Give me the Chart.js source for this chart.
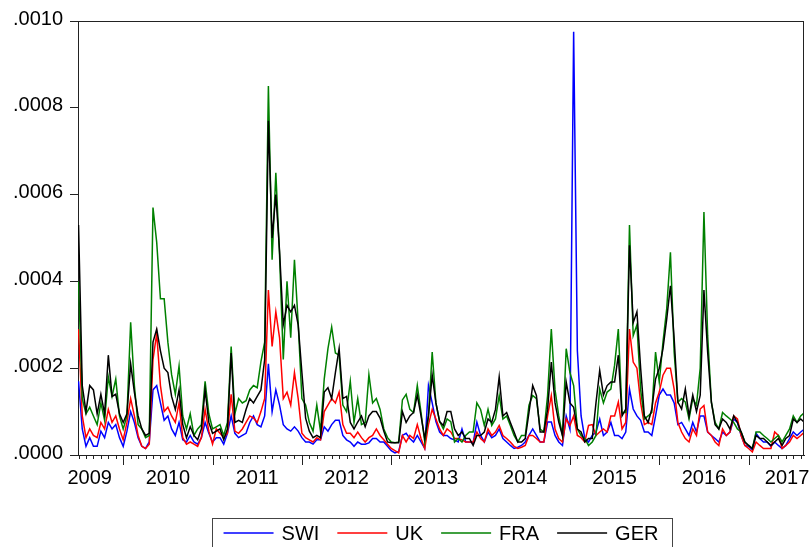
<!DOCTYPE html>
<html>
<head>
<meta charset="utf-8">
<script src="https://cdn.jsdelivr.net/npm/chart.js@4.4.1/dist/chart.umd.min.js"></script>
<style>
html,body{margin:0;padding:0;background:#fff;overflow:hidden}
#wrap{width:809px;height:547px;position:relative}
</style>
</head>
<body>
<div id="wrap"><canvas id="c" width="809" height="547"></canvas></div>
<script>
// ---- data (values in units of 1e-4), semi-monthly readings from July 2009 ----
const seriesNames = ['SWI', 'UK', 'FRA', 'GER'];
const seriesColors = ['#0000ff', '#ff0000', '#008000', '#000000'];
const yearLabels = ['2009', '2010', '2011', '2012', '2013', '2014', '2015', '2016', '2017'];
const startYear = 2009.5;
const pointsPerYear = 24;

const swi = [1.7,0.6,0.2,0.4,0.2,0.2,0.55,0.4,0.75,0.6,0.7,0.4,0.2,0.55,1.0,0.75,0.4,0.2,0.15,0.3,
1.5,1.6,1.2,0.8,0.9,0.6,0.45,0.75,0.35,0.3,0.45,0.3,0.25,0.4,0.75,0.5,0.3,0.4,0.4,0.25,
0.5,0.9,0.5,0.4,0.45,0.5,0.75,0.9,0.7,0.65,0.9,2.1,1.0,1.5,1.15,0.7,0.6,0.55,0.65,0.55,
0.4,0.3,0.3,0.25,0.35,0.35,0.65,0.55,0.7,0.8,0.8,0.45,0.35,0.3,0.2,0.3,0.25,0.25,0.28,0.38,
0.38,0.3,0.3,0.2,0.1,0.05,0.08,0.45,0.5,0.38,0.3,0.45,0.3,0.15,1.6,1.2,0.77,0.53,0.45,0.45,
0.38,0.35,0.3,0.6,0.3,0.3,0.28,0.76,0.45,0.3,0.53,0.4,0.45,0.6,0.38,0.3,0.22,0.15,0.18,0.22,
0.3,0.45,0.6,0.45,0.3,0.3,0.76,0.76,0.45,0.3,0.22,0.9,0.6,9.75,2.4,0.9,0.38,0.3,0.45,0.53,
0.83,0.45,0.53,0.75,0.45,0.45,0.38,0.53,1.52,1.06,0.9,0.8,0.53,0.53,0.45,0.9,1.38,1.52,1.38,1.38,
1.2,0.7,0.75,0.6,0.45,0.75,0.53,0.9,0.9,0.53,0.45,0.38,0.3,0.53,0.45,0.53,0.83,0.75,0.45,0.22,
0.2,0.12,0.5,0.38,0.3,0.3,0.2,0.3,0.22,0.15,0.22,0.38,0.53,0.45,0.53,0.6];

const uk = [2.9,0.9,0.4,0.6,0.45,0.4,0.75,0.6,1.05,0.75,0.9,0.6,0.35,0.75,1.3,0.9,0.45,0.2,0.15,0.25,
2.2,2.8,1.6,1.0,1.1,0.9,0.75,1.2,0.4,0.25,0.3,0.25,0.2,0.4,1.05,0.55,0.25,0.6,0.5,0.4,
0.5,1.4,0.55,0.5,0.6,0.75,0.9,0.85,0.75,1.0,1.3,3.8,2.5,3.3,2.7,1.3,1.45,1.15,1.9,1.3,
0.5,0.4,0.35,0.3,0.4,0.35,1.0,1.15,1.3,1.2,1.45,0.7,0.5,0.5,0.4,0.53,0.4,0.3,0.4,0.45,
0.6,0.45,0.35,0.25,0.15,0.1,0.05,0.45,0.3,0.45,0.38,0.7,0.38,0.15,0.7,1.05,0.83,0.6,0.45,0.6,
0.53,0.38,0.38,0.35,0.3,0.3,0.3,0.53,0.38,0.3,0.6,0.45,0.53,0.68,0.45,0.38,0.3,0.2,0.15,0.18,
0.22,0.45,0.45,0.38,0.3,0.3,0.9,1.37,0.6,0.38,0.3,0.83,0.68,0.9,0.45,0.4,0.3,0.68,0.7,0.45,
0.53,0.6,0.53,0.9,0.9,1.22,0.6,0.75,2.9,2.14,2.0,1.2,0.7,0.75,0.7,1.2,1.45,1.84,2.0,2.0,
1.52,0.75,0.53,0.38,0.3,0.6,0.45,1.06,1.14,0.53,0.45,0.3,0.22,0.6,0.45,0.53,0.9,0.83,0.45,0.22,
0.15,0.07,0.3,0.22,0.15,0.15,0.15,0.53,0.45,0.15,0.22,0.3,0.45,0.38,0.45,0.53];

const fra = [4.0,1.3,0.95,1.1,0.9,0.7,1.2,0.8,1.8,1.35,1.75,0.9,0.6,0.9,3.06,1.6,0.7,0.6,0.4,0.45,
5.7,4.9,3.6,3.6,2.6,1.85,1.4,2.05,0.9,0.6,0.95,0.45,0.6,0.7,1.7,0.95,0.6,0.65,0.7,0.45,
0.75,2.5,0.95,1.3,1.2,1.25,1.5,1.6,1.55,2.15,2.6,8.5,4.5,6.5,4.6,2.2,4.0,2.7,4.5,3.05,
1.3,1.15,0.75,0.55,1.15,0.55,1.75,2.45,2.95,2.35,2.3,1.15,1.0,1.7,0.75,1.3,0.7,0.75,1.85,1.2,
1.3,1.05,0.6,0.4,0.3,0.28,0.3,1.27,1.4,1.05,0.98,1.6,0.98,0.3,0.9,2.37,1.2,0.77,0.6,0.83,
0.77,0.3,0.38,0.3,0.45,0.53,0.53,1.2,1.05,0.68,1.05,0.68,0.83,1.37,0.83,0.9,0.68,0.45,0.3,0.45,
0.45,1.15,1.37,1.3,0.6,0.53,1.37,2.9,1.5,0.9,0.45,2.45,1.9,1.6,0.6,0.45,0.38,0.22,0.3,0.45,
1.52,1.2,1.45,1.52,2.07,2.9,0.98,0.98,5.3,2.75,3.0,1.5,0.83,0.9,0.98,2.37,1.68,2.6,3.37,4.67,
2.37,1.22,1.3,1.22,0.83,1.3,1.15,2.0,5.6,2.75,1.22,0.75,0.6,0.98,0.9,0.83,0.75,0.6,0.53,0.3,
0.22,0.15,0.53,0.53,0.45,0.38,0.3,0.38,0.45,0.3,0.45,0.6,0.9,0.75,0.9,0.98];

const ger = [5.3,1.6,1.0,1.6,1.5,0.95,1.4,0.95,2.3,1.35,1.4,0.95,0.75,0.95,2.1,1.45,0.9,0.6,0.45,0.5,
2.6,2.9,2.4,2.0,1.9,1.35,1.05,1.5,0.7,0.4,0.65,0.45,0.35,0.6,1.5,0.75,0.5,0.55,0.6,0.35,
0.6,2.35,0.75,0.8,0.75,1.05,1.3,1.2,1.35,1.5,2.2,7.7,5.0,6.0,4.7,3.0,3.45,3.3,3.45,3.0,
1.9,0.85,0.55,0.4,0.45,0.4,1.45,1.55,1.3,1.9,2.45,1.3,1.35,0.75,0.6,0.76,0.9,0.65,0.9,1.0,
1.0,0.85,0.55,0.3,0.28,0.28,0.28,1.0,0.75,0.9,0.98,1.38,0.9,0.38,0.9,1.84,1.2,0.77,0.68,1.0,
1.0,0.6,0.45,0.53,0.38,0.38,0.22,0.45,0.45,0.53,0.83,0.75,1.05,1.8,0.9,0.98,0.75,0.53,0.3,0.3,
0.38,0.98,1.6,1.37,0.53,0.53,1.05,2.14,1.2,0.76,0.45,1.68,1.2,1.1,0.6,0.53,0.3,0.38,0.38,1.2,
1.95,1.38,1.6,1.68,1.68,2.3,0.9,1.06,4.83,3.05,3.3,2.0,0.9,0.75,1.06,1.75,2.0,2.45,3.13,3.9,
2.68,1.22,1.06,1.52,0.9,1.38,1.0,1.38,3.8,2.37,1.22,0.7,0.6,0.83,0.75,0.6,0.9,0.75,0.53,0.3,
0.22,0.15,0.45,0.38,0.38,0.3,0.22,0.3,0.38,0.22,0.38,0.45,0.83,0.75,0.83,0.75];

// ---- build datasets ----
const seriesValues = [swi, uk, fra, ger];
const drawOrder = [3, 2, 1, 0]; // GER drawn on top
const datasets = seriesNames.map((name, k) => ({
  label: name,
  data: seriesValues[k].map((v, i) => ({ x: startYear + i / pointsPerYear, y: v * 1e-4 })),
  borderColor: seriesColors[k],
  backgroundColor: seriesColors[k],
  borderWidth: 1.5,
  pointRadius: 0,
  tension: 0,
  order: drawOrder[k]
}));

const FONT = { family: '"Liberation Sans", Arial, sans-serif', size: 20 };
const AXIS = '#222222';

// label anchor values for the year labels (centred in each year, end years nudged)
const yearLabelAnchors = yearLabels.map((y, i) => {
  const yr = +y;
  if (i === 0) return yr + 0.625;
  if (i === yearLabels.length - 1) return yr + 0.43;
  return yr + 0.5;
});

const framePlugin = {
  id: 'frameAndLegend',
  afterDraw(chart) {
    const { ctx, chartArea, scales } = chart;
    const { left, right, top, bottom } = chartArea;
    const x = scales.x;
    ctx.save();
    ctx.strokeStyle = AXIS;
    ctx.lineWidth = 1;
    ctx.beginPath();
    ctx.moveTo(left, top + 0.5); ctx.lineTo(right, top + 0.5);
    ctx.moveTo(right - 0.5, top); ctx.lineTo(right - 0.5, bottom);
    // monthly minor ticks, yearly major ticks
    for (let yr = 2009; yr <= 2018; yr++) {
      for (let m = 0; m < 12; m++) {
        const v = yr + m / 12;
        if (v < x.min || v > x.max) continue;
        const px = Math.round(x.getPixelForValue(v)) + 0.5;
        const len = m === 0 ? 10 : 4;
        ctx.moveTo(px, bottom);
        ctx.lineTo(px, bottom + len);
      }
    }
    ctx.stroke();

    // legend
    ctx.font = `${FONT.size}px ${FONT.family}`;
    const lineLen = 50, textGap = 8, itemGap = 18;
    const ds = chart.data.datasets;
    const widths = ds.map(d => lineLen + textGap + ctx.measureText(d.label).width);
    const total = widths.reduce((a, b) => a + b, 0) + itemGap * (ds.length - 1);
    let cx = (left + right) / 2 - total / 2;
    const yMid = 533;
    ctx.strokeStyle = '#444';
    ctx.lineWidth = 1;
    ctx.strokeRect(Math.round(cx - 12) + 0.5, 518.5, Math.round(total + 25), 40);
    ctx.textBaseline = 'middle';
    ctx.textAlign = 'left';
    ds.forEach((d, i) => {
      ctx.strokeStyle = d.borderColor;
      ctx.lineWidth = 1.5;
      ctx.beginPath();
      ctx.moveTo(cx, yMid);
      ctx.lineTo(cx + lineLen, yMid);
      ctx.stroke();
      ctx.fillStyle = '#000';
      ctx.fillText(d.label, cx + lineLen + textGap, yMid + 1);
      cx += widths[i] + itemGap;
    });
    ctx.restore();
  }
};

new Chart(document.getElementById('c'), {
  type: 'line',
  data: { datasets },
  options: {
    responsive: false,
    devicePixelRatio: 1,
    animation: false,
    layout: { padding: { top: 21, right: 5, left: 0, bottom: 0 }, autoPadding: false },
    plugins: { legend: { display: false }, tooltip: { enabled: false } },
    scales: {
      x: {
        type: 'linear',
        position: 'bottom',
        min: 2009.494,
        max: 2017.62,
        grid: { display: false, drawTicks: false, tickLength: 0 },
        border: { display: true, color: AXIS, width: 1 },
        afterBuildTicks: (s) => { s.ticks = yearLabelAnchors.map(v => ({ value: v })); },
        afterFit: (s) => { s.height = 92; s.paddingLeft = 0; s.paddingRight = 0; },
        ticks: {
          autoSkip: false,
          maxRotation: 0,
          padding: 11,
          color: '#000',
          font: FONT,
          callback: (v, i) => yearLabels[i]
        }
      },
      y: {
        type: 'linear',
        min: 0,
        max: 0.001,
        grid: { display: true, drawOnChartArea: false, drawTicks: true, tickLength: 8, color: AXIS },
        border: { display: true, color: AXIS, width: 1 },
        afterFit: (s) => { s.width = 78; s.paddingTop = 0; s.paddingBottom = 0; },
        ticks: {
          stepSize: 0.0002,
          padding: 7,
          labelOffset: -2,
          color: '#000',
          font: FONT,
          callback: (v) => Number(v).toFixed(4).replace(/^0/, '')
        }
      }
    }
  },
  plugins: [framePlugin]
});
</script>
</body>
</html>
